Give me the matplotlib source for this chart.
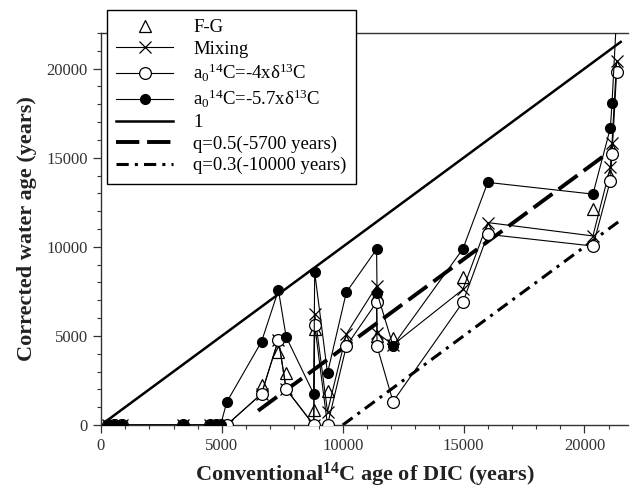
import numpy as np
import matplotlib
matplotlib.use("Agg")
import matplotlib.pyplot as plt
from matplotlib.ticker import MultipleLocator

plt.rcParams["font.family"] = ["Liberation Serif", "DejaVu Serif"]
plt.rcParams["mathtext.fontset"] = "custom"
plt.rcParams["mathtext.rm"] = "Liberation Serif"
plt.rcParams["mathtext.it"] = "Liberation Serif:italic"
plt.rcParams["mathtext.bf"] = "Liberation Serif:bold"

# conventional 14C age of DIC (years), one entry per sample
conv_age = [300, 550, 850, 3400, 4500, 4750, 4950, 5200, 6640, 7340, 7660,
            8800, 8840, 9370, 10150, 11400, 11420, 12080, 14970, 16000,
            20350, 21070, 21140, 21330]

# corrected ages (years)
fg = [0, 0, 0, 0, 0, 0, 0, 0, 2250, 4075, 2910,
      845, 5400, 1880, 4700, 7300, 5000, 4883, 8300, 11000,
      12110, 14000, 15500, 20100]
mixing = [0, 0, 0, 0, 0, 0, 0, 0, 1746, 4790, 2010,
          0, 6250, 750, 5100, 7793, 5165, 4500, 7606, 11360,
          10610, 14460, 15830, 20430]
a0_4 = [0, 0, 0, 0, 0, 0, 0, 0, 1746, 4790, 2010,
        0, 5634, 0, 4430, 6890, 4413, 1315, 6890, 10700,
        10045, 13710, 15210, 19815]
a0_57 = [0, 0, 0, 0, 0, 0, 0, 1280, 4676, 7566, 4940,
         1746, 8580, 2910, 7454, 9860, 7417, 4450, 9880, 13615,
         12958, 16660, 18070, 23000]

# reference lines
line1_x = [300, 21500]
q05_x = [6500, 20900]
q05_shift = 5700
q03_x = [10000, 21400]
q03_shift = 10000

fig = plt.figure(figsize=(6.3, 4.94), dpi=100)
ax = fig.add_axes([0.1603, 0.1397, 0.8365, 0.7935])

x = np.array(conv_age)
ax.plot(x, fg, linestyle="none", marker="^", ms=8.5, mfc="white", mec="black",
        mew=0.9, label="F-G", zorder=3)
ax.plot(x, mixing, color="black", lw=0.8, marker="x", ms=8.5, mew=0.9,
        label="Mixing", zorder=4)
ax.plot(x, a0_4, color="black", lw=0.8, marker="o", ms=8.5, mfc="white",
        mec="black", mew=0.9, label=r"a$_0$$^{14}$C=-4xδ$^{13}$C", zorder=5)
ax.plot(x, a0_57, color="black", lw=0.8, marker="o", ms=7, mfc="black",
        mec="black", label=r"a$_0$$^{14}$C=-5.7xδ$^{13}$C", zorder=6)

l1 = np.array(line1_x)
ax.plot(l1, l1, color="black", lw=1.8, label="1", zorder=2)
q5 = np.array(q05_x)
ax.plot(q5, q5 - q05_shift, color="black", lw=2.8, linestyle=(0, (6, 2)),
        label="q=0.5(-5700 years)", zorder=2)
q3 = np.array(q03_x)
ax.plot(q3, q3 - q03_shift, color="black", lw=2.2,
        linestyle=(0, (4, 2, 1, 2)), label="q=0.3(-10000 years)", zorder=2)

ax.set_xlim(0, 21800)
ax.set_ylim(0, 22000)
ax.xaxis.set_major_locator(MultipleLocator(5000))
ax.xaxis.set_minor_locator(MultipleLocator(1000))
ax.yaxis.set_major_locator(MultipleLocator(5000))
ax.yaxis.set_minor_locator(MultipleLocator(1000))
ax.tick_params(which="major", direction="out", length=6, width=0.9,
               labelsize=12, colors="#333333")
ax.tick_params(which="minor", direction="out", length=3, width=0.8,
               colors="#333333")
ax.spines["right"].set_visible(False)
for s in ["left", "bottom", "top"]:
    ax.spines[s].set_color("#333333")
    ax.spines[s].set_linewidth(1.0)

ax.set_xlabel(r"Conventional$^{\mathbf{14}}$C age of DIC (years)",
              fontsize=16, fontweight="bold", color="#222222", labelpad=5)
ax.set_ylabel("Corrected water age (years)", fontsize=16,
              fontweight="bold", color="#222222", labelpad=7)

leg = ax.legend(loc="upper left", bbox_to_anchor=(107 / 630, 1 - 10 / 494),
                bbox_transform=fig.transFigure, borderaxespad=0,
                fontsize=13.5, frameon=True, fancybox=False, framealpha=1,
                edgecolor="black", handlelength=3.0, handletextpad=1.1,
                labelspacing=0.22, borderpad=0.5)
leg.get_frame().set_linewidth(1.0)
leg.set_zorder(10)

fig.savefig("out.png", dpi=100)
